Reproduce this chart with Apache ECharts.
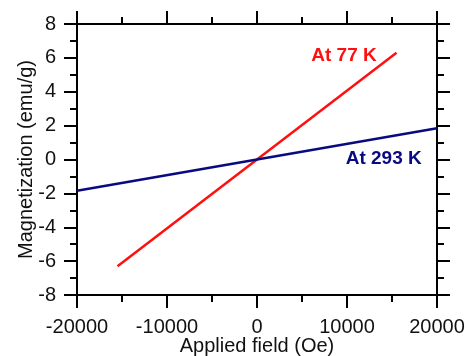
<!DOCTYPE html>
<html>
<head>
<meta charset="utf-8">
<script src="https://cdn.jsdelivr.net/npm/echarts@6/dist/echarts.min.js"></script>
<style>html,body{margin:0;padding:0;background:#fff;}#c{width:469px;height:356px;}</style>
</head>
<body>
<div id="c"></div>
<script>
// Data
const field77 = [-15500, 15500];
const mag77 = [-6.3, 6.3];
const field293 = [-20000, 20000];
const mag293 = [-1.85, 1.85];
const label77 = { text: 'At 77 K', x: 13300, y: 6.15 };
const label293 = { text: 'At 293 K', x: 18300, y: 0.05 };
const xTitle = 'Applied field (Oe)';
const yTitle = 'Magnetization (emu/g)';

const FONT = '"Liberation Sans", Arial, sans-serif';
const axisCommon = {
  axisLine: { show: true, onZero: false, lineStyle: { color: '#000', width: 2 } },
  axisTick: { show: true, inside: false, length: 13, lineStyle: { color: '#000', width: 2 } },
  minorTick: { show: true, splitNumber: 2, length: 7, lineStyle: { color: '#000', width: 2 } },
  splitLine: { show: false },
  minorSplitLine: { show: false }
};
function mk(extra) { return Object.assign({}, JSON.parse(JSON.stringify(axisCommon)), extra); }
const plain = v => String(v);

const chart = echarts.init(document.getElementById('c'), null, { renderer: 'canvas' });
chart.setOption({
  animation: false,
  backgroundColor: '#fff',
  grid: { left: 77, right: 32, top: 24, bottom: 61, containLabel: false, outerBoundsMode: 'none' },
  xAxis: [
    mk({ type: 'value', position: 'bottom', min: -20000, max: 20000, interval: 10000,
      axisLabel: { fontSize: 20, color: '#111', fontFamily: FONT, margin: 22, formatter: plain },
      name: xTitle, nameLocation: 'middle', nameGap: 41, nameMoveOverlap: false,
      nameTextStyle: { fontSize: 20, color: '#111', fontFamily: FONT } }),
    mk({ type: 'value', position: 'top', min: -20000, max: 20000, interval: 10000,
      axisLabel: { show: false } })
  ],
  yAxis: [
    mk({ type: 'value', position: 'left', min: -8, max: 8, interval: 2,
      axisLabel: { fontSize: 20, color: '#111', fontFamily: FONT, margin: 21, formatter: plain },
      name: yTitle, nameLocation: 'middle', nameGap: 41, nameMoveOverlap: false,
      nameTextStyle: { fontSize: 20, color: '#111', fontFamily: FONT } }),
    mk({ type: 'value', position: 'right', min: -8, max: 8, interval: 2,
      axisLabel: { show: false } })
  ],
  series: [
    {
      type: 'line', name: '77 K', showSymbol: false, symbol: 'none',
      data: field77.map((x, i) => [x, mag77[i]]),
      lineStyle: { color: '#ff1010', width: 2.5 },
      markPoint: {
        symbol: 'circle', symbolSize: 0,
        data: [{ coord: [label77.x, label77.y], value: label77.text }],
        label: { show: true, formatter: label77.text, position: 'left', distance: 0,
          color: '#ff1010', fontWeight: 'bold', fontSize: 19, fontFamily: FONT }
      }
    },
    {
      type: 'line', name: '293 K', showSymbol: false, symbol: 'none',
      data: field293.map((x, i) => [x, mag293[i]]),
      lineStyle: { color: '#0a0a80', width: 2.5 },
      markPoint: {
        symbol: 'circle', symbolSize: 0,
        data: [{ coord: [label293.x, label293.y], value: label293.text }],
        label: { show: true, formatter: label293.text, position: 'left', distance: 0,
          color: '#0a0a80', fontWeight: 'bold', fontSize: 19, fontFamily: FONT }
      }
    }
  ]
});
</script>
</body>
</html>
